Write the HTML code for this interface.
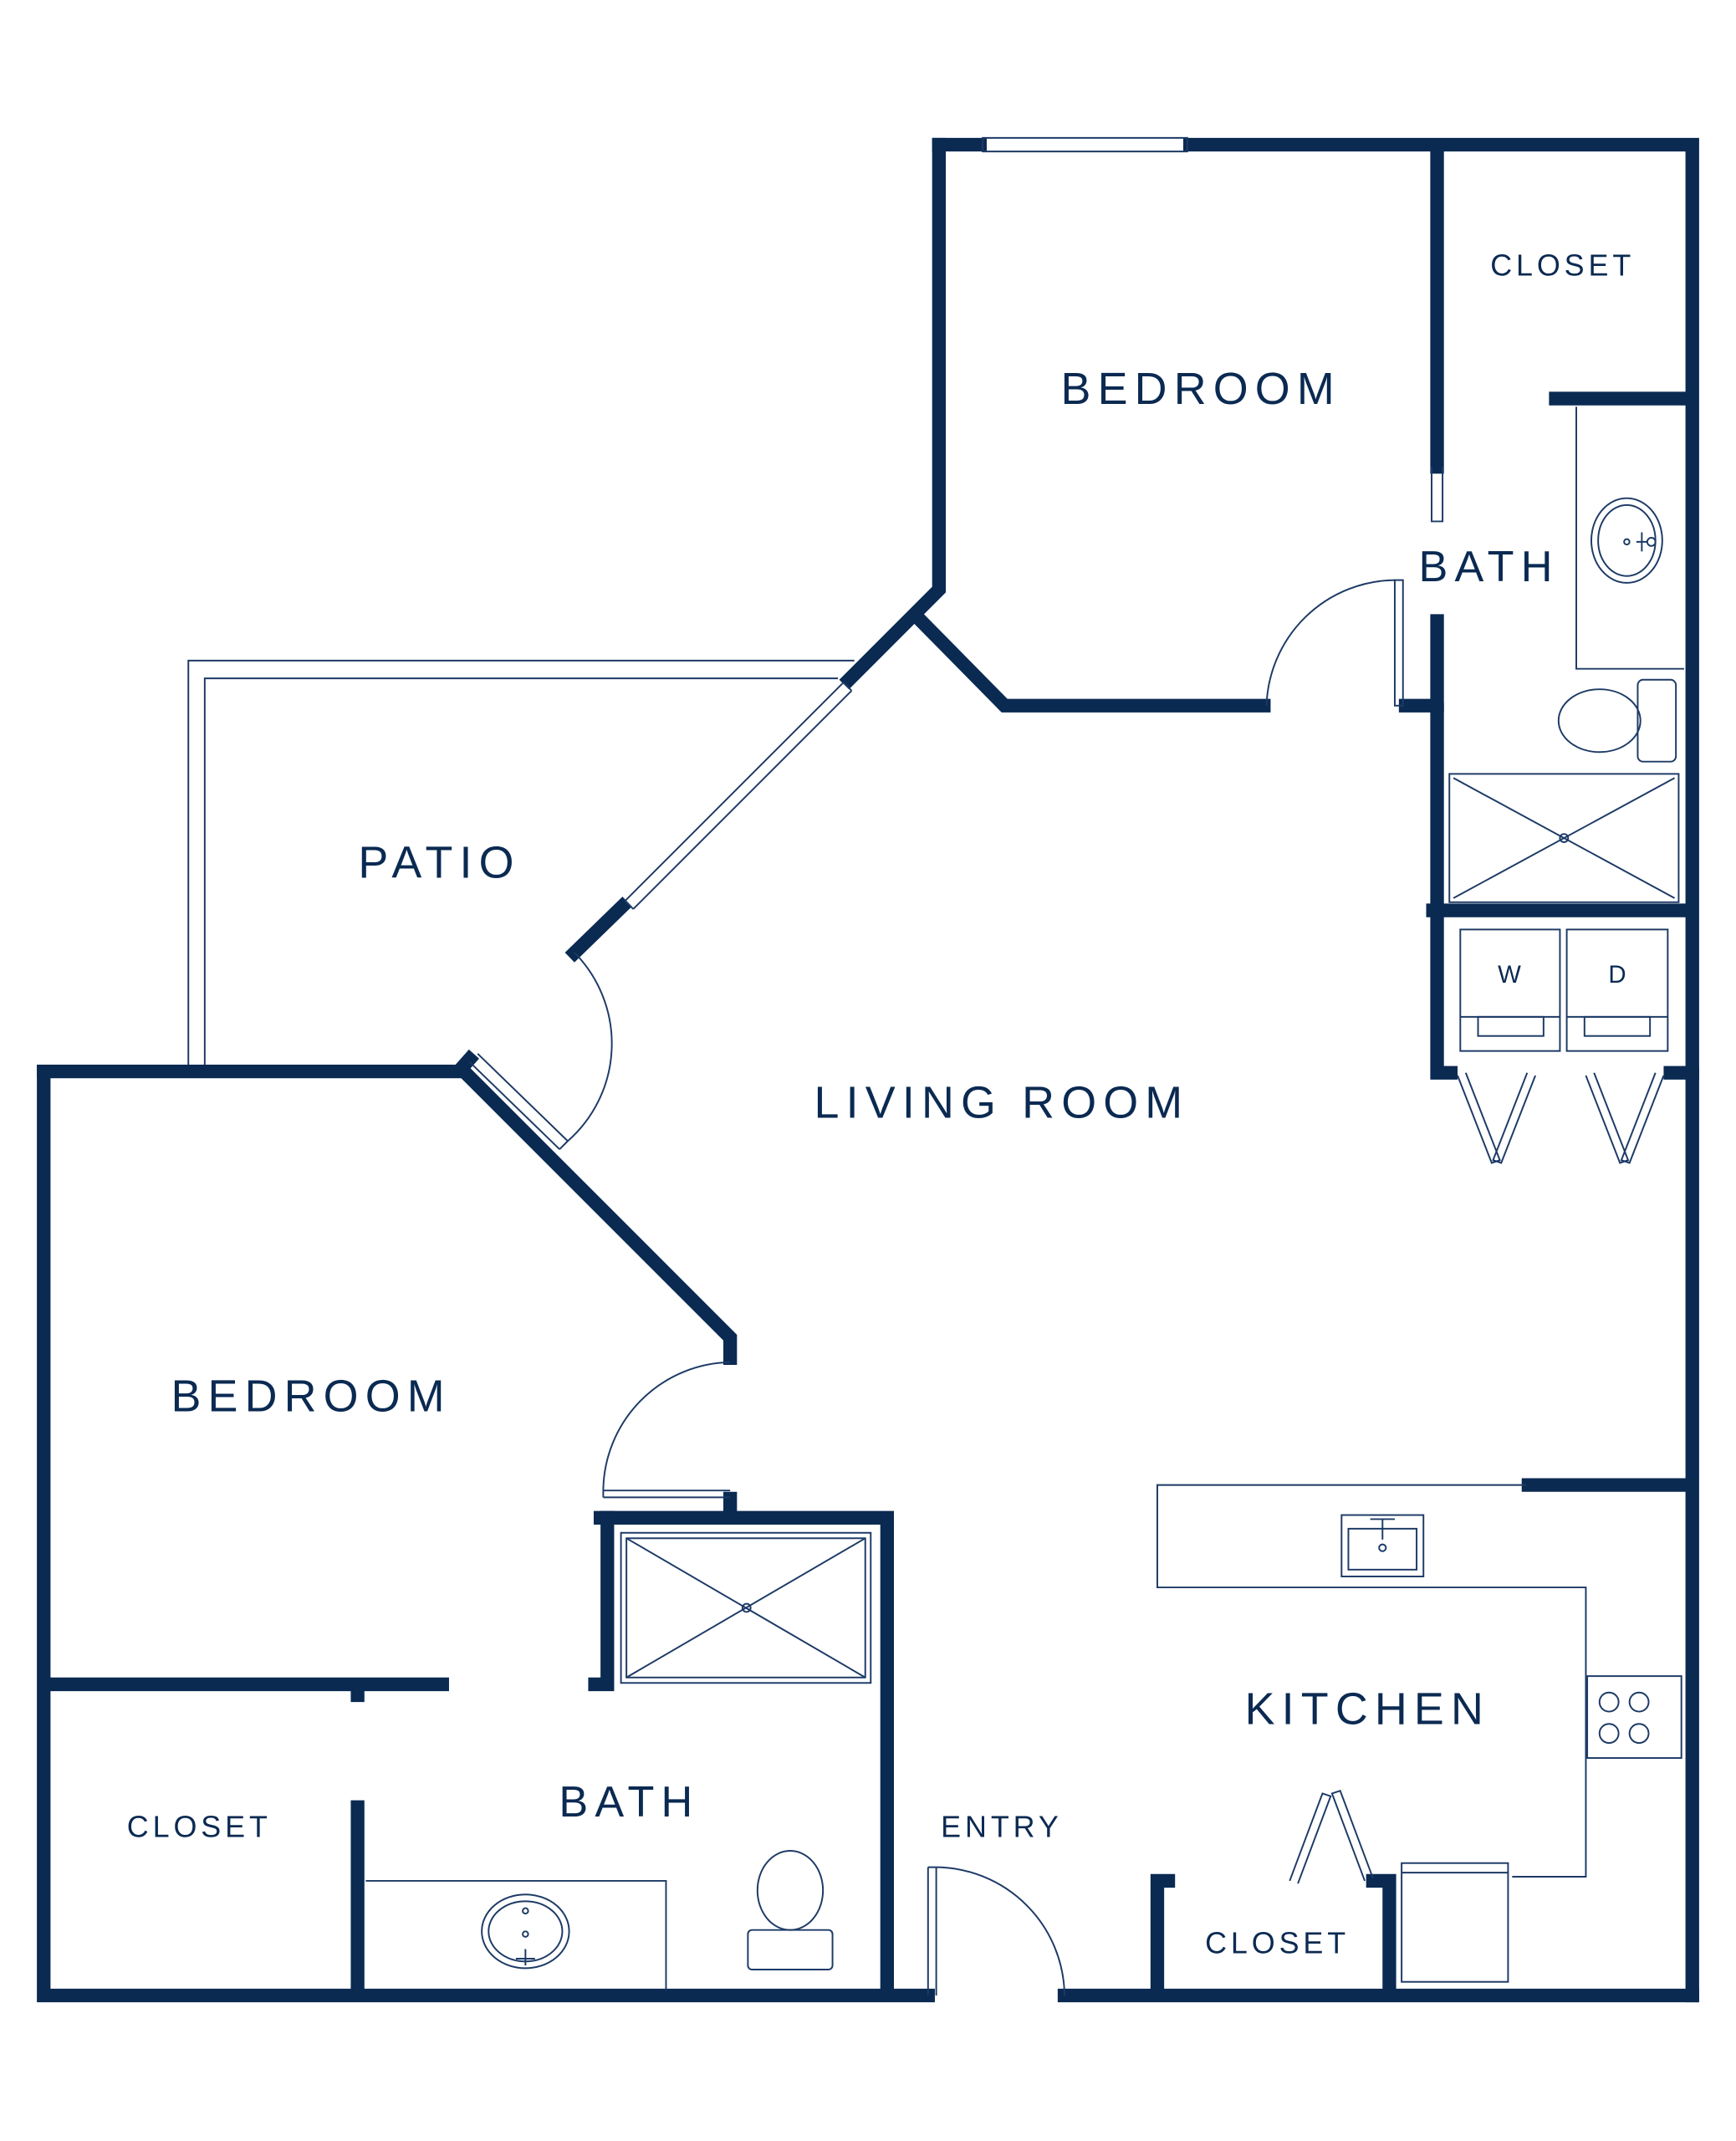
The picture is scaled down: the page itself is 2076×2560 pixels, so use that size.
<!DOCTYPE html>
<html><head><meta charset="utf-8"><style>
html,body{margin:0;padding:0;background:#fff}
svg{display:block}
text{font-family:"Liberation Sans",sans-serif;fill:#0b2a52;text-anchor:middle}
</style></head><body>
<svg width="2076" height="2560" viewBox="0 0 1272 1568.6" xmlns="http://www.w3.org/2000/svg">
<g fill="none" stroke="#0b2a52" stroke-width="10" stroke-linecap="square">
<path d="M688,106 H718 M872,106 H1240 V1462"/>
<path d="M688,106 V432 L622,498"/>
<path d="M456,664 L421,698"/>
<path d="M672,452 L736,517 H926"/>
<path d="M1053,110 V342"/>
<path d="M1053,455 V517 H1030"/>
<path d="M1053,520 V786 H1063"/>
<path d="M1224,786 H1240"/>
<path d="M1140,292 H1236"/>
<path d="M1050,667 H1236"/>
<path d="M32,785 H336 L344,776"/>
<path d="M340,785 L535,980 V995"/>
<path d="M32,785 V1462 H680"/>
<path d="M780,1462 H1240"/>
<path d="M535,1098 V1104"/>
<path d="M440,1112 H650 V1460"/>
<path d="M445,1112 V1234 H436"/>
<path d="M37,1234 H324"/>
<path d="M262,1238 V1242"/>
<path d="M262,1324 V1458"/>
<path d="M848,1378 V1458 M848,1378 H856"/>
<path d="M1018,1380 V1458 M1018,1378 H1006"/>
<path d="M1120,1088 H1236"/>
</g>
<g fill="none" stroke="#1d3a66" stroke-width="1.2">
<path d="M720,101 H870 V111 H720 Z"/>
<path d="M618,500 L458,660 M624,506 L464,666 M618,500 L624,506 M458,660 L464,666"/>
<path d="M1049,342 V382 H1057 V342"/>
<path d="M1022,425 V517 H1028 V425 Z"/>
<path d="M928,517 A95,95 0 0 1 1022,425"/>
<path d="M1155,298 V490 H1234"/>
<ellipse cx="1192" cy="396" rx="26" ry="31"/>
<ellipse cx="1192" cy="396" rx="21" ry="26"/>
<circle cx="1192" cy="397" r="2"/><circle cx="1210" cy="397" r="3"/><path d="M1199,397 H1207 M1203,390 V404"/>
<ellipse cx="1172" cy="528" rx="30" ry="23"/>
<rect x="1200" y="498" width="28" height="60" rx="4"/>
<rect x="1062" y="567" width="168" height="94"/><path d="M1065,570 L1227,658 M1227,570 L1065,658"/><circle cx="1146" cy="614" r="3"/>
<rect x="1070" y="681" width="73" height="89"/><rect x="1148" y="681" width="74" height="89"/>
<path d="M1070,745 H1143 M1148,745 H1222"/>
<rect x="1083" y="745" width="48" height="14"/><rect x="1161" y="745" width="48" height="14"/>
<path d="M1068,788 L1093,852 L1099,850 L1074,786 M1125,788 L1100,852 L1094,850 L1119,786"/>
<path d="M1162,788 L1187,852 L1193,850 L1168,786 M1219,788 L1194,852 L1188,850 L1213,786"/>
<path d="M138,780 V484 H626 M150,780 V497 H614"/>
<path d="M350,772 L416,836 M344,778 L410,842 M416,836 L410,842"/>
<path d="M416,836 A95,95 0 0 0 421,698"/>
<path d="M535,998 A95,95 0 0 0 442,1092 M442,1092 H535 M442,1097 H535 M442,1092 V1097"/>
<rect x="455" y="1123" width="183" height="110"/><rect x="459" y="1127" width="175" height="102"/>
<path d="M459,1127 L634,1229 M634,1127 L459,1229"/><circle cx="547" cy="1178" r="3"/>
<path d="M268,1378 H488 V1458"/>
<ellipse cx="385" cy="1415" rx="32" ry="27"/><ellipse cx="385" cy="1415" rx="27" ry="22"/>
<circle cx="385" cy="1417" r="2"/><circle cx="385" cy="1400" r="2"/><path d="M378,1435 H392 M385,1428 V1440"/>
<ellipse cx="579" cy="1385" rx="24" ry="29"/><rect x="548" y="1414" width="62" height="29" rx="3"/>
<path d="M680,1368 V1462 M686,1368 V1462 M680,1368 H686"/>
<path d="M686,1368 A95,95 0 0 1 780,1462"/>
<path d="M1118,1088 H848 V1163 H1162 V1375 H1108"/>
<rect x="983" y="1110" width="60" height="45"/><rect x="988" y="1120" width="50" height="30"/>
<circle cx="1013" cy="1134" r="2.5"/><path d="M1004,1113 H1022 M1013,1113 V1128"/>
<rect x="1163" y="1228" width="69" height="60"/>
<circle cx="1179" cy="1247" r="7"/><circle cx="1201" cy="1247" r="7"/><circle cx="1179" cy="1270" r="7"/><circle cx="1201" cy="1270" r="7"/>
<rect x="1027" y="1365" width="78" height="87"/><path d="M1027,1372 H1105"/>
<path d="M945,1378 L969,1314 L975,1316 L951,1380 M1000,1378 L976,1314 L982,1312 L1006,1376"/>
</g>
<g>
<text x="880" y="296" font-size="33" letter-spacing="5">BEDROOM</text>
<text x="1145" y="202" font-size="22" letter-spacing="3">CLOSET</text>
<text x="1091" y="426" font-size="32" letter-spacing="5">BATH</text>
<text x="1106" y="720" font-size="18">W</text>
<text x="1185" y="720" font-size="18">D</text>
<text x="322" y="643" font-size="33" letter-spacing="5">PATIO</text>
<text x="734" y="819" font-size="33" letter-spacing="5">LIVING ROOM</text>
<text x="228" y="1034" font-size="33" letter-spacing="5">BEDROOM</text>
<text x="461" y="1331" font-size="32" letter-spacing="5">BATH</text>
<text x="146" y="1346" font-size="22" letter-spacing="3">CLOSET</text>
<text x="734" y="1346" font-size="22" letter-spacing="3">ENTRY</text>
<text x="1002" y="1263" font-size="33" letter-spacing="5">KITCHEN</text>
<text x="936" y="1431" font-size="22" letter-spacing="3">CLOSET</text>
</g>
</svg>
</body></html>
